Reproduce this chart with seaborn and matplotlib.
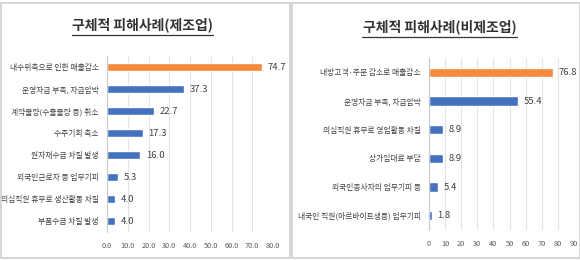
import matplotlib
matplotlib.use("Agg")
import matplotlib.pyplot as plt
import seaborn as sns
import pandas as pd
from matplotlib.lines import Line2D
from matplotlib.patches import Rectangle

# ---- data ----
left_title = "구체적 피해사례(제조업)"
left_categories = ["내수위축으로 인한 매출감소", "운영자금 부족, 자금압박", "계약물량(수출물량 등) 취소",
                   "수주기회 축소", "원자재수급 차질 발생", "외국인근로자 등 업무기피",
                   "의심직원 휴무로 생산활동 차질", "부품수급 차질 발생"]
left_values = [74.7, 37.3, 22.7, 17.3, 16.0, 5.3, 4.0, 4.0]
left_ticks = [0, 10, 20, 30, 40, 50, 60, 70, 80]
left_ticklabels = ["0.0", "10.0", "20.0", "30.0", "40.0", "50.0", "60.0", "70.0", "80.0"]

right_title = "구체적 피해사례(비제조업)"
right_categories = ["내방고객·주문 감소로 매출감소", "운영자금 부족, 자금압박", "의심직원 휴무로 영업활동 차질",
                    "상가임대료 부담", "외국인종사자의 업무기피 등", "내국인 직원(아르바이트생등) 업무기피"]
right_values = [76.8, 55.4, 8.9, 8.9, 5.4, 1.8]
right_ticks = [0, 10, 20, 30, 40, 50, 60, 70, 80, 90]
right_ticklabels = ["0", "10", "20", "30", "40", "50", "60", "70", "80", "90"]

ORANGE = "#F58B3C"
BLUE = "#4472BE"

sns.set_style("white")
plt.rcParams["font.family"] = ["Noto Sans CJK KR", "DejaVu Sans"]

W, H = 580, 260
fig = plt.figure(figsize=(W / 100, H / 100), dpi=100)
fig.patch.set_facecolor("white")


def px_axes(x0, y0, x1, y1):
    return fig.add_axes([x0 / W, 1 - y1 / H, (x1 - x0) / W, (y1 - y0) / H])


# panel frames
for (x0, x1) in [(0.5, 289.5), (291.5, 579.5)]:
    fig.patches.append(Rectangle((x0 / W, 2.5 / H), (x1 - x0) / W, (H - 5) / H,
                                 transform=fig.transFigure, fill=False,
                                 edgecolor="#D0D0D0", linewidth=1.2))


def panel(ax, cats, vals, ticks, ticklabels, xmax, width, fmt_gap):
    df = pd.DataFrame({"cat": cats, "val": vals})
    colors = [ORANGE] + [BLUE] * (len(cats) - 1)
    sns.barplot(data=df, x="val", y="cat", hue="cat", palette=colors, legend=False,
                orient="h", width=width, ax=ax, saturation=1)
    ax.set_xlim(0, xmax)
    ax.set_ylim(len(cats) - 0.5, -0.5)
    ax.set_xticks(ticks)
    ax.set_xticklabels(ticklabels, fontsize=5.3, color="#595959")
    ax.tick_params(axis="x", length=0, pad=7)
    ax.tick_params(axis="y", length=0, pad=6, labelsize=5.6, labelcolor="#404040")
    ax.set_xlabel("")
    ax.set_ylabel("")
    for t in ticks[1:]:
        ax.axvline(t, color="#E3E3E3", linewidth=0.8, zorder=0)
    for s in ["top", "right", "bottom"]:
        ax.spines[s].set_visible(False)
    ax.spines["left"].set_color("#C8C8C8")
    ax.spines["left"].set_linewidth(0.8)
    for i, v in enumerate(vals):
        ax.annotate(f"{v:.1f}", xy=(v, i), xytext=(fmt_gap, 0), textcoords="offset points",
                    ha="left", va="center", fontsize=6.8, color="#404040")


axL = px_axes(107, 56, 273, 232)
panel(axL, left_categories, left_values, left_ticks, left_ticklabels, 80, 0.36, 4)

axR = px_axes(429, 58, 574, 230)
panel(axR, right_categories, right_values, right_ticks, right_ticklabels, 90, 0.32, 4)

# titles with underline
for cx, cy, txt, ux0, ux1 in [(142, 25, left_title, 72, 213), (440, 27, right_title, 362, 517)]:
    fig.text(cx / W, 1 - cy / H, txt, ha="center", va="center", fontsize=10,
             fontweight="bold", color="#333333")
    fig.lines.append(Line2D([ux0 / W, ux1 / W], [1 - (cy + 9.5) / H, 1 - (cy + 9.5) / H],
                            transform=fig.transFigure, color="#333333", linewidth=0.9))

fig.savefig("out.png", dpi=100)
